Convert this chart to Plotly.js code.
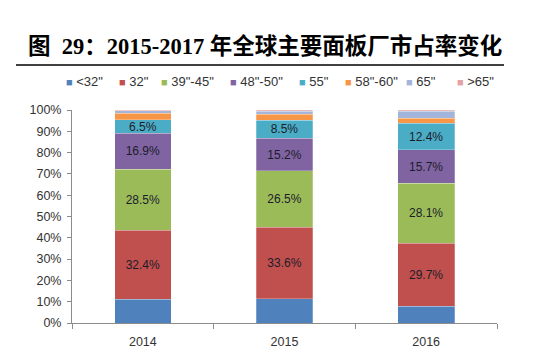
<!DOCTYPE html>
<html><head><meta charset="utf-8">
<script src="https://cdn.plot.ly/plotly-3.0.1.min.js"></script>
<style>html,body{margin:0;padding:0;background:#fff}#chart{width:554px;height:352px}</style>
</head><body><div id="chart"></div>
<script>
const years = ["2014", "2015", "2016"];
const seriesNames = ['<32"', '32"', '39"-45"', '48"-50"', '55"', '58"-60"', '65"', '>65"'];
const lt32 = [11.2, 11.4, 7.8];
const s32 = [32.4, 33.6, 29.7];
const s39_45 = [28.5, 26.5, 28.1];
const s48_50 = [16.9, 15.2, 15.7];
const s55 = [6.5, 8.5, 12.4];
const s58_60 = [3.0, 2.9, 2.5];
const s65 = [1.1, 1.4, 3.2];
const gt65 = [0.4, 0.5, 0.6];
const labelled = [false, true, true, true, true, false, false, false];
const colors = ["#4F81BD", "#C0504D", "#9BBB59", "#8064A2", "#4BACC6", "#F79646", "#A3B5DA", "#E3A3A3"];
const allSeries = [lt32, s32, s39_45, s48_50, s55, s58_60, s65, gt65];

const traces = allSeries.map((vals, i) => ({
  type: "bar",
  name: seriesNames[i],
  x: years,
  y: vals.map(v => v / 100),
  marker: {color: colors[i], line: {width: 0.5, color: "rgba(255,255,255,0.5)"}},
  text: labelled[i] ? vals.map(v => v.toFixed(1) + "%") : vals.map(() => ""),
  textposition: labelled[i] ? "inside" : "none",
  insidetextanchor: "middle",
  textangle: 0,
  constraintext: "none",
  textfont: {family: "Liberation Sans, Arial, sans-serif", size: 12, color: "#1c1c2a"},
  hoverinfo: "name+y",
  showlegend: false
}));

// plot area in pixels (for placing the custom legend)
const L = 72, R = 497, T = 110, B = 323;
const legendPx = [64, 117, 159, 228, 297, 343, 404, 455];
const legendY = 81;
const annotations = seriesNames.map((n, i) => ({
  xref: "paper", yref: "paper",
  x: (legendPx[i] - L) / (R - L),
  y: (B - legendY) / (B - T),
  xanchor: "left", yanchor: "middle",
  showarrow: false,
  text: '<span style="color:' + colors[i] + ';font-size:11px">■</span> ' + n.replace(/</g, "&lt;").replace(/>/g, "&gt;"),
  font: {family: "Liberation Sans, Arial, sans-serif", size: 13, color: "#333"}
}));

const layout = {
  width: 554, height: 352,
  margin: {l: L, r: 554 - R, t: T, b: 352 - B},
  paper_bgcolor: "#fff", plot_bgcolor: "#fff",
  barmode: "stack",
  bargap: 0.6,
  title: {
    text: "<b>图  29：2015-2017 年全球主要面板厂市占率变化</b>",
    x: 28 / 554, xanchor: "left",
    y: 1 - 46 / 352, yanchor: "middle",
    font: {family: "Liberation Serif, Noto Sans CJK SC, serif", size: 22.5, color: "#000"}
  },
  xaxis: {
    type: "category",
    showline: true, linecolor: "#8c8c8c", linewidth: 1,
    ticks: "outside", tickson: "boundaries", ticklen: 5, tickcolor: "#8c8c8c",
    ticklabelstandoff: 7,
    tickfont: {family: "Liberation Sans, Arial, sans-serif", size: 12.5, color: "#333"},
    showgrid: false, zeroline: false
  },
  yaxis: {
    range: [0, 1], tickformat: ".0%", dtick: 0.1,
    showline: true, linecolor: "#8c8c8c", linewidth: 1,
    ticks: "outside", ticklen: 4, tickcolor: "#8c8c8c",
    ticklabelstandoff: 3,
    tickfont: {family: "Liberation Sans, Arial, sans-serif", size: 12.5, color: "#333"},
    showgrid: false, zeroline: false
  },
  shapes: [{
    type: "line", xref: "paper", yref: "paper",
    x0: (16 - L) / (R - L), x1: (504 - L) / (R - L),
    y0: (B - 65) / (B - T), y1: (B - 65) / (B - T),
    line: {color: "#000", width: 1.5}
  }],
  annotations: annotations,
  showlegend: false
};

Plotly.newPlot("chart", traces, layout, {displayModeBar: false, staticPlot: true});
</script>
</body></html>
